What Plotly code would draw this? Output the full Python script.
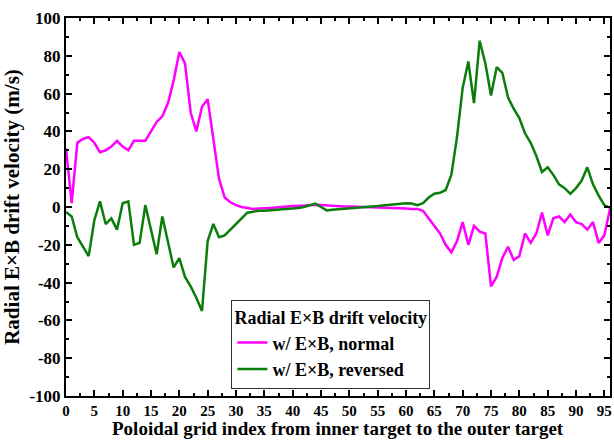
import plotly.graph_objects as go

grid_index = list(range(97))

normal = [31, 2, 34, 36, 37, 34, 29, 30, 32, 35,
          32, 30, 35, 35, 35, 40, 45, 48, 55, 67,
          82, 76, 50, 40, 53, 57, 35, 15, 5, 2.5,
          1, 0, -0.5, -1, -0.8, -0.8, -0.5, -0.3, 0, 0.3,
          0.5, 0.5, 0.8, 1, 1.2, 1, 0.8, 0.5, 0.5, 0.3,
          0.3, 0.2, 0.2, 0, 0, 0, -0.2, -0.3, -0.5, -0.5,
          -0.8, -1, -1, -2, -6, -10, -14, -20, -24, -18,
          -8, -20, -10, -13, -14, -42, -37, -27, -21, -28,
          -26, -14, -19, -14, -3, -15, -6, -5, -8, -4,
          -8, -9, -12, -8, -19, -15, -1]

reversed_ = [-2.6, -5, -16, -21, -26, -7, 3, -9, -6, -12,
             2, 3, -20, -19, 1, -12, -25, -5, -18, -32,
             -27, -37, -42, -48, -55, -18, -9, -16, -15, -12,
             -9, -6, -3, -2.5, -2, -2, -1.8, -1.5, -1.5, -1.2,
             -1, -0.5, 0, 1, 1.8, 0, -1.8, -1.5, -1.2, -1,
             -0.8, -0.5, 0, 0.2, 0.3, 0.5, 0.8, 1, 1.2, 1.5,
             2, 1.8, 1, 2, 5, 7, 7.5, 9, 17, 37,
             63, 77, 55, 88, 76, 59, 74, 71, 58, 52,
             47, 39, 34, 27, 18.5, 21, 17, 12, 10, 7,
             10, 14, 21, 12, 6, 1, -0.5]

x_ticks = list(range(0, 96, 5))
y_ticks = list(range(-100, 101, 20))
y_tick_text = [str(v) for v in y_ticks]
x_title = "Poloidal grid index from inner target to the outer target"
y_title = "Radial E×B drift velocity (m/s)"

FONT = "Liberation Serif"

fig = go.Figure()
fig.add_trace(go.Scatter(x=grid_index, y=normal, mode="lines",
                         name="w/ E×B, normal",
                         line=dict(color="#FF00FF", width=2.5)))
fig.add_trace(go.Scatter(x=grid_index, y=reversed_, mode="lines",
                         name="w/ E×B, reversed",
                         line=dict(color="#0A7D0A", width=2.5)))

axis_common = dict(showline=True, linecolor="black", linewidth=2, mirror="ticks",
                   ticks="inside", tickcolor="black", tickwidth=2, ticklen=6,
                   showgrid=False, zeroline=False)

fig.update_xaxes(range=[0, 96], tickvals=x_ticks,
                 tickfont=dict(family=FONT, size=15, color="black", weight="bold"),
                 minor=dict(dtick=2.5, tick0=0, ticks="inside", ticklen=3,
                            tickwidth=2, tickcolor="black", showgrid=False),
                 **axis_common)
fig.update_yaxes(range=[-100, 100], tickvals=y_ticks, ticktext=y_tick_text,
                 tickfont=dict(family=FONT, size=17, color="black", weight="bold"),
                 minor=dict(dtick=10, tick0=0, ticks="inside", ticklen=3,
                            tickwidth=2, tickcolor="black", showgrid=False),
                 title=dict(text=y_title,
                            font=dict(family=FONT, size=21, color="black", weight="bold"),
                            standoff=6),
                 **axis_common)

fig.add_annotation(text=x_title, xref="paper", yref="paper", x=0.5, y=-0.119,
                   xanchor="center", yanchor="bottom", showarrow=False,
                   font=dict(family=FONT, size=19, color="black", weight="bold"))

fig.update_layout(
    width=614, height=441,
    margin=dict(l=66, r=2, t=18, b=45),
    paper_bgcolor="white", plot_bgcolor="white",
    legend=dict(x=0.304, y=0.254, xanchor="left", yanchor="top",
                bordercolor="#333333", borderwidth=1, bgcolor="white",
                title=dict(text="Radial E×B drift velocity",
                           font=dict(family=FONT, size=18, color="black", weight="bold")),
                font=dict(family=FONT, size=18, color="black", weight="bold"),
                tracegroupgap=0, itemwidth=30),
)

fig.write_html("out.html")
